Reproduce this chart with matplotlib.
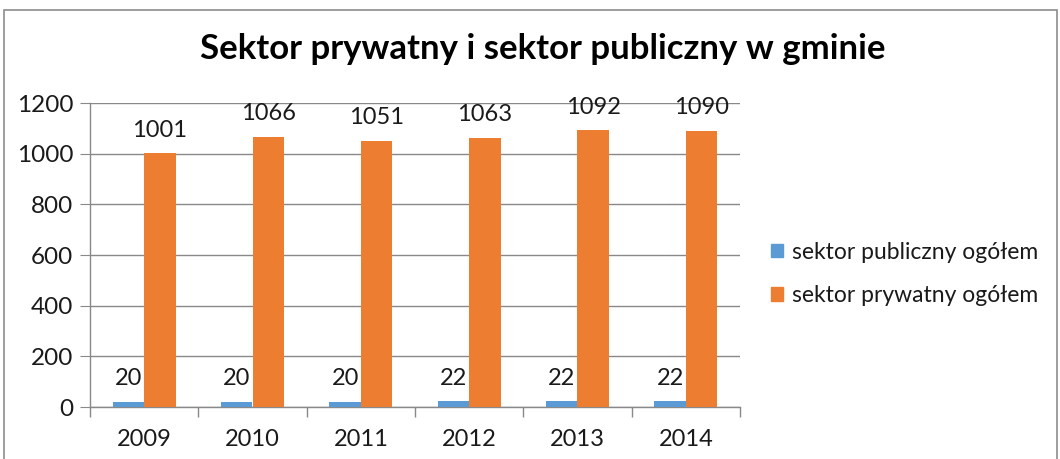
import matplotlib
matplotlib.use('Agg')
import matplotlib.pyplot as plt
import numpy as np
from matplotlib.patches import Patch, Rectangle

# Data
years = ['2009', '2010', '2011', '2012', '2013', '2014']
publiczny = [20, 20, 20, 22, 22, 22]
prywatny = [1001, 1066, 1051, 1063, 1092, 1090]

BLUE = '#5B9BD5'
ORANGE = '#ED7D31'
GRID = '#898989'
TEXT = '#1a1a1a'

plt.rcParams['font.family'] = ['Lato', 'DejaVu Sans']

fig = plt.figure(figsize=(10.6, 4.59), dpi=100)
W, H = 1060, 459

# outer chart border (Excel style)
fig.patches.append(Rectangle((4 / W, -0.05), (1057 - 4) / W, 1.05 - 10 / H,
                             transform=fig.transFigure, fill=False,
                             edgecolor='#8c8c8c', linewidth=1.2))

ax = fig.add_axes([90 / W, 52 / H, 650 / W, 304 / H])

x = np.arange(len(years))
bw = 0.29
b1 = ax.bar(x - bw / 2, publiczny, bw, color=BLUE, label='sektor publiczny ogółem', zorder=3)
b2 = ax.bar(x + bw / 2, prywatny, bw, color=ORANGE, label='sektor prywatny ogółem', zorder=3)

for bars, vals in ((b1, publiczny), (b2, prywatny)):
    for rect, v in zip(bars, vals):
        ax.annotate(str(v), (rect.get_x() + rect.get_width() / 2, v),
                    xytext=(0, 9), textcoords='offset points',
                    ha='center', va='bottom', fontsize=17, color=TEXT)

ax.set_xlim(-0.5, len(years) - 0.5)
ax.set_ylim(0, 1200)
ax.set_yticks(range(0, 1201, 200))
ax.yaxis.grid(True, color=GRID, linewidth=1)
ax.set_axisbelow(True)

# category labels centred, tick marks on category boundaries
ax.set_xticks(x)
ax.set_xticklabels(years, fontsize=17, color=TEXT)
ax.tick_params(axis='x', length=0, pad=16)
ax.set_xticks(np.arange(-0.5, len(years)), minor=True)
ax.tick_params(axis='x', which='minor', length=7, color=GRID, width=1)
ax.tick_params(axis='y', labelsize=17.5, labelcolor=TEXT, length=7, color=GRID, pad=5)

for side in ('top', 'right'):
    ax.spines[side].set_visible(False)
for side in ('left', 'bottom'):
    ax.spines[side].set_color(GRID)
    ax.spines[side].set_linewidth(1)

fig.text(543 / W, 1 - 49 / H, 'Sektor prywatny i sektor publiczny w gminie',
         ha='center', va='center', fontsize=25, fontweight='bold', color='black')

handles = [Patch(color=BLUE), Patch(color=ORANGE)]
fig.legend(handles, ['sektor publiczny ogółem', 'sektor prywatny ogółem'],
           loc='center left', bbox_to_anchor=(750 / W, 1 - 274 / H),
           frameon=False, fontsize=16.5, handlelength=0.55, handleheight=0.55,
           handletextpad=0.4, labelspacing=1.0, labelcolor=TEXT)

fig.savefig('out.png', dpi=100)
